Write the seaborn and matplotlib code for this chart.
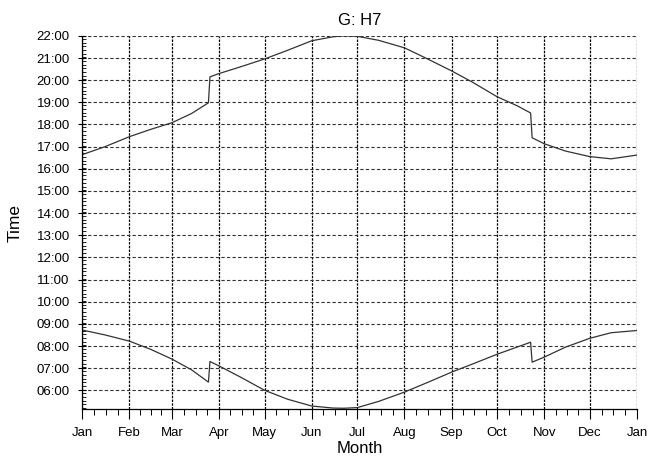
import matplotlib
matplotlib.use("Agg")
import matplotlib.pyplot as plt
from matplotlib.ticker import FixedLocator
import seaborn as sns
import pandas as pd

# day of year -> hour of day
sunset_day = [0, 15, 31, 45, 59, 72, 83, 84, 90, 104, 120, 134, 151, 165, 172, 181, 195, 212, 226, 243, 257, 273, 286, 295, 296, 304, 318, 334, 348, 365]
sunset_hour = [16.64, 17.0, 17.45, 17.78, 18.08, 18.5, 18.98, 20.15, 20.3, 20.6, 20.96, 21.32, 21.78, 21.96, 22.0, 21.98, 21.8, 21.46, 21.0, 20.42, 19.9, 19.25, 18.85, 18.52, 17.4, 17.13, 16.8, 16.55, 16.45, 16.62]

sunrise_day = [0, 15, 31, 45, 59, 72, 83, 84, 90, 104, 120, 135, 151, 165, 172, 181, 195, 212, 227, 243, 258, 273, 286, 295, 296, 304, 318, 334, 348, 365]
sunrise_hour = [8.72, 8.5, 8.22, 7.85, 7.41, 6.92, 6.37, 7.3, 7.1, 6.6, 6.0, 5.6, 5.29, 5.2, 5.19, 5.22, 5.5, 5.92, 6.35, 6.82, 7.22, 7.63, 7.95, 8.17, 7.27, 7.5, 7.95, 8.35, 8.6, 8.7]

month_start = [0, 31, 59, 90, 120, 151, 181, 212, 243, 273, 304, 334, 365]
month_label = ["Jan", "Feb", "Mar", "Apr", "May", "Jun", "Jul", "Aug", "Sep", "Oct", "Nov", "Dec", "Jan"]
hour_ticks = list(range(6, 23))

sns.set_style("white")
plt.rcParams["font.family"] = ["Liberation Sans", "DejaVu Sans"]
plt.rcParams["text.color"] = "black"
plt.rcParams["axes.labelcolor"] = "black"
plt.rcParams["xtick.color"] = "black"
plt.rcParams["ytick.color"] = "black"

fig = plt.figure(figsize=(6.48, 4.66), dpi=100)
ax = fig.add_axes([0.127, 0.122, 0.856, 0.801])

sunset = pd.DataFrame({"day": sunset_day, "hour": sunset_hour})
sunrise = pd.DataFrame({"day": sunrise_day, "hour": sunrise_hour})
sns.lineplot(data=sunset, x="day", y="hour", color="#333333", linewidth=0.9, ax=ax)
sns.lineplot(data=sunrise, x="day", y="hour", color="#333333", linewidth=0.9, ax=ax)

ax.set_xlim(0, 365)
ax.set_ylim(5.15, 22)

ax.set_xticks(month_start)
ax.set_xticklabels(month_label, fontsize=9.5)
minor_x = []
for a, b in zip(month_start[:-1], month_start[1:]):
    minor_x += [a + (b - a) * k / 4 for k in (1, 2, 3)]
ax.xaxis.set_minor_locator(FixedLocator(minor_x))

ax.set_yticks(hour_ticks)
ax.set_yticklabels(["%02d:00" % h for h in hour_ticks], fontsize=9.5)
ax.yaxis.set_minor_locator(FixedLocator([5.2 + i / 6 for i in range(101)]))

ax.grid(True, axis="x", which="major", color="black", linestyle=(0, (2, 1)), linewidth=0.9)
ax.grid(True, axis="y", which="major", color="#333333", linestyle=(0, (3, 2)), linewidth=0.8)
ax.tick_params(axis="x", which="major", direction="out", length=7, width=0.8, color="black", pad=6)
ax.tick_params(axis="x", which="minor", direction="out", length=4, width=0.7, color="black")
ax.tick_params(axis="y", which="major", direction="inout", length=6, width=0.8, color="black", pad=6)
ax.tick_params(axis="y", which="minor", direction="in", length=3, width=0.6, color="black")
ax.tick_params(bottom=True, left=True, which="both")

for side in ["top", "right"]:
    ax.spines[side].set_visible(False)
for side in ["left", "bottom"]:
    ax.spines[side].set_color("black")
    ax.spines[side].set_linewidth(0.9)

ax.set_title("G: H7", fontsize=12, pad=8)
ax.set_xlabel("Month", fontsize=12, labelpad=1)
ax.set_ylabel("Time", fontsize=12.5, labelpad=10)

fig.savefig("out.png", dpi=100)
